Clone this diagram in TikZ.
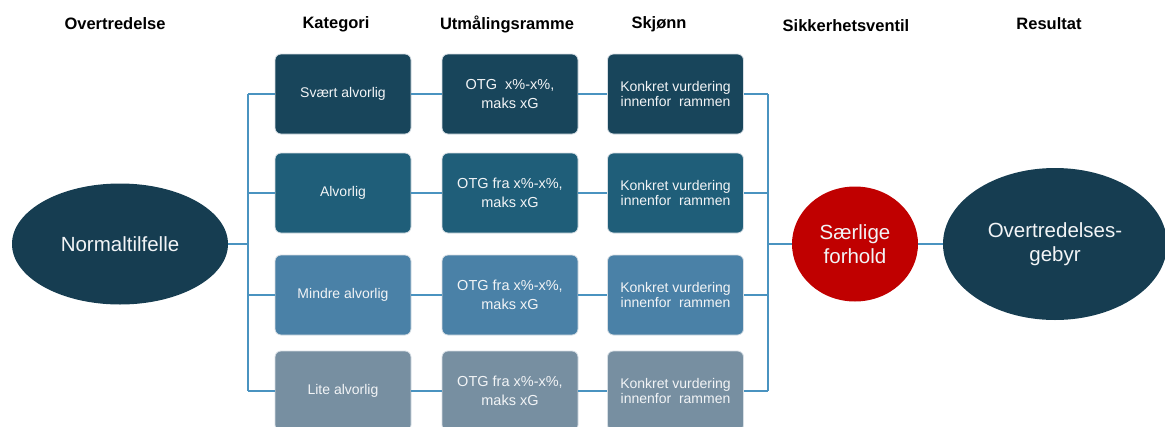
\documentclass[tikz,border=0pt]{standalone}
\usepackage{fontspec}
\setmainfont{Liberation Sans}
\usetikzlibrary{shapes.geometric}
\definecolor{rowA}{HTML}{18455B}
\definecolor{rowB}{HTML}{1F5E79}
\definecolor{rowC}{HTML}{4A81A7}
\definecolor{rowD}{HTML}{778FA1}
\definecolor{ellC}{HTML}{163D51}
\definecolor{redC}{HTML}{C00000}
\definecolor{lineC}{HTML}{4A93C0}
\definecolor{edgeC}{HTML}{D6DEE4}
\definecolor{txtC}{HTML}{F2F4F6}
\begin{document}
\begin{tikzpicture}[x=1pt,y=-1pt,
  hdr/.style={font=\fontsize{16.5}{19}\selectfont\bfseries, text=black, inner sep=0pt},
  box/.style={rectangle, rounded corners=6pt, minimum width=136pt, minimum height=80pt,
    inner sep=0pt, align=center, text=txtC, draw=edgeC, line width=0.8pt},
  kat/.style={box, font=\fontsize{14}{17}\selectfont},
  utm/.style={box, font=\fontsize{14.5}{19}\selectfont},
  skj/.style={box, font=\fontsize{14}{14.5}\selectfont},
  big/.style={ellipse, inner sep=0pt, align=center, text=txtC, font=\fontsize{20.5}{24}\selectfont},
  conn/.style={draw=lineC, line width=2pt}]
\useasboundingbox (0,0) rectangle (1165,426);
\clip (0,0) rectangle (1165,426);

% headers
\node[hdr] (h1) at (115,24) {Overtredelse};
\node[hdr] (h2) at (336,24) {Kategori};
\node[hdr] (h3) at (507,24) {Utmålingsramme};
\node[hdr] (h4) at (659,24) {Skjønn};
\node[hdr] (h5) at (846,26) {Sikkerhetsventil};
\node[hdr] (h6) at (1049,24) {Resultat};

% left ellipse
\node[big, fill=ellC, minimum width=216pt, minimum height=121pt] (nt) at (120,244) {Normaltilfelle};

% rows
\node[kat, fill=rowA] (k1) at (343,94) {Svært alvorlig};
\node[kat, fill=rowB] (k2) at (343,193) {Alvorlig};
\node[kat, fill=rowC] (k3) at (343,295) {Mindre alvorlig};
\node[kat, fill=rowD] (k4) at (343,391) {Lite alvorlig};

\node[utm, fill=rowA] (u1) at (510,94) {OTG\ \ x\%-x\%,\\maks xG};
\node[utm, fill=rowB] (u2) at (510,193) {OTG fra x\%-x\%,\\maks xG};
\node[utm, fill=rowC] (u3) at (510,295) {OTG fra x\%-x\%,\\maks xG};
\node[utm, fill=rowD] (u4) at (510,391) {OTG fra x\%-x\%,\\maks xG};

\node[skj, fill=rowA] (s1) at (675.5,94) {Konkret vurdering\\innenfor\ \ rammen};
\node[skj, fill=rowB] (s2) at (675.5,193) {Konkret vurdering\\innenfor\ \ rammen};
\node[skj, fill=rowC] (s3) at (675.5,295) {Konkret vurdering\\innenfor\ \ rammen};
\node[skj, fill=rowD] (s4) at (675.5,391) {Konkret vurdering\\innenfor\ \ rammen};

% right side
\node[big, fill=redC, minimum width=126pt, minimum height=115pt] (sf) at (855,244) {Særlige\\forhold};
\node[big, fill=ellC, minimum width=224pt, minimum height=152pt] (ov) at (1055,244) {Overtredelses-\\gebyr};

% bracket coordinates
\coordinate (lx) at (248,0);
\coordinate (rx) at (768,0);

% connectors
\draw[conn] (nt.east) -- (nt.east -| lx);
\draw[conn] (k1.west -| lx) -- (k4.west -| lx);
\foreach \i in {1,2,3,4} {
  \draw[conn] (k\i.west -| lx) -- (k\i.west);
  \draw[conn] (k\i.east) -- (u\i.west);
  \draw[conn] (u\i.east) -- (s\i.west);
  \draw[conn] (s\i.east) -- (s\i.east -| rx);
}
\draw[conn] (s1.east -| rx) -- (s4.east -| rx);
\draw[conn] (sf.west -| rx) -- (sf.west);
\draw[conn] (sf.east) -- (ov.west);
\end{tikzpicture}
\end{document}
